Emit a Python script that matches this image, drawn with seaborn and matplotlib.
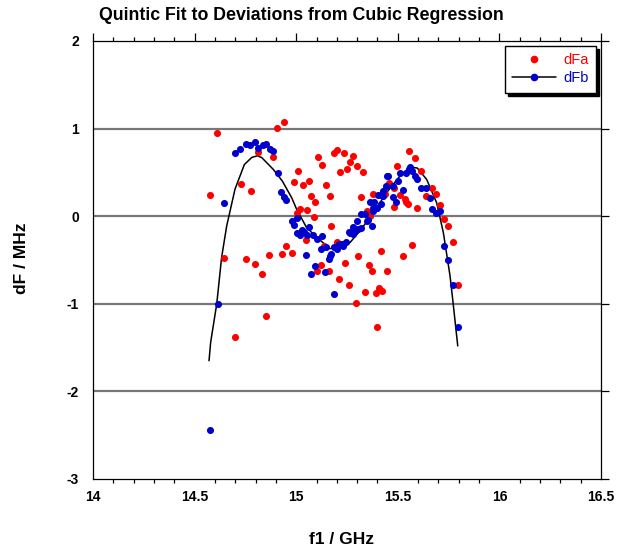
import numpy as np
import pandas as pd
import matplotlib
matplotlib.use("Agg")
import matplotlib.pyplot as plt
from matplotlib.lines import Line2D
from matplotlib.ticker import MultipleLocator
import seaborn as sns

# Deviations dFa (MHz) versus f1 (GHz)
fa_x = [14.574, 14.612, 14.643, 14.700, 14.727, 14.751, 14.776, 14.797, 14.814, 14.833,
        14.851, 14.865, 14.884, 14.907, 14.929, 14.938, 14.951, 14.978, 14.989, 15.002,
        15.009, 15.020, 15.033, 15.047, 15.053, 15.065, 15.071, 15.086, 15.091, 15.104,
        15.109, 15.122, 15.128, 15.138, 15.147, 15.161, 15.166, 15.173, 15.185, 15.200,
        15.199, 15.212, 15.217, 15.235, 15.242, 15.248, 15.262, 15.267, 15.279, 15.294,
        15.299, 15.306, 15.317, 15.330, 15.337, 15.350, 15.357, 15.363, 15.375, 15.380,
        15.393, 15.399, 15.406, 15.419, 15.424, 15.435, 15.445, 15.455, 15.479, 15.481,
        15.494, 15.511, 15.526, 15.535, 15.542, 15.552, 15.557, 15.568, 15.583, 15.594,
        15.613, 15.640, 15.667, 15.688, 15.706, 15.727, 15.745, 15.771, 15.798]
fa_y = [0.24, 0.953, -0.475, -1.38, 0.37, -0.49, 0.285, -0.55, 0.73, -0.665,
        -1.14, -0.44, 0.675, 1.01, -0.43, 1.08, -0.34, -0.42, 0.387, 0.034,
        0.516, 0.083, 0.353, -0.27, 0.068, 0.40, 0.235, -0.008, 0.167, -0.62,
        0.675, -0.555, 0.59, -0.34, 0.357, -0.62, 0.235, -0.11, 0.72, -0.30,
        0.76, -0.72, 0.505, 0.72, -0.535, 0.54, -0.79, 0.615, 0.69, -0.99,
        0.573, -0.46, 0.224, 0.50, -0.87, 0.057, -0.56, 0.0, -0.62, 0.258,
        -0.88, -1.26, -0.82, -0.40, -0.85, 0.254, -0.62, 0.376, 0.106, 0.32,
        0.573, 0.239, -0.45, 0.194, 0.163, 0.137, 0.748, -0.326, 0.66, 0.095,
        0.516, 0.235, 0.32, 0.25, 0.133, -0.034, -0.11, -0.30, -0.79]

# Deviations dFb (MHz) versus f1 (GHz)
fb_x = [14.574, 14.614, 14.645, 14.700, 14.725, 14.751, 14.774, 14.796, 14.814, 14.835,
        14.853, 14.869, 14.884, 14.909, 14.927, 14.938, 14.950, 14.979, 14.991, 15.002,
        15.005, 15.020, 15.027, 15.038, 15.047, 15.053, 15.063, 15.071, 15.084, 15.091,
        15.101, 15.124, 15.128, 15.140, 15.145, 15.161, 15.168, 15.173, 15.186, 15.188,
        15.199, 15.211, 15.224, 15.232, 15.245, 15.260, 15.265, 15.278, 15.281, 15.291,
        15.299, 15.302, 15.319, 15.319, 15.337, 15.347, 15.353, 15.363, 15.373, 15.376,
        15.380, 15.384, 15.396, 15.401, 15.416, 15.419, 15.425, 15.429, 15.443, 15.448,
        15.453, 15.474, 15.478, 15.493, 15.500, 15.512, 15.526, 15.539, 15.553, 15.560,
        15.570, 15.583, 15.596, 15.613, 15.640, 15.657, 15.670, 15.689, 15.708, 15.727,
        15.745, 15.771, 15.796]
fb_y = [-2.44, -1.0, 0.15, 0.72, 0.763, 0.82, 0.81, 0.85, 0.775, 0.81,
        0.82, 0.77, 0.74, 0.49, 0.28, 0.22, 0.185, -0.05, -0.10, -0.02,
        -0.195, -0.21, -0.155, -0.18, -0.44, -0.21, -0.12, -0.66, -0.21, -0.573,
        -0.265, -0.38, -0.23, -0.634, -0.35, -0.49, -0.455, -0.43, -0.89, -0.357,
        -0.37, -0.32, -0.32, -0.34, -0.29, -0.186, -0.197, -0.12, -0.205, -0.16,
        -0.05, -0.145, -0.133, 0.023, 0.023, -0.053, -0.045, 0.167, -0.11, 0.09,
        0.057, 0.167, 0.095, 0.243, 0.243, 0.14, 0.29, 0.228, 0.34, 0.455,
        0.46, 0.224, 0.34, 0.167, 0.40, 0.49, 0.30, 0.49, 0.535, 0.558,
        0.52, 0.46, 0.42, 0.326, 0.326, 0.205, 0.08, 0.038, 0.065, -0.338,
        -0.50, -0.79, -1.26]

# Quintic fit curve
fit_x = [14.571, 14.579, 14.609, 14.633, 14.658, 14.699, 14.745, 14.781, 14.809, 14.830,
         14.887, 14.932, 14.978, 15.002, 15.051, 15.101, 15.166, 15.216, 15.265, 15.314,
         15.380, 15.445, 15.511, 15.560, 15.596, 15.642, 15.691, 15.724, 15.757, 15.770,
         15.795]
fit_y = [-1.65, -1.44, -1.0, -0.47, -0.11, 0.31, 0.59, 0.67, 0.69, 0.67,
         0.535, 0.40, 0.21, 0.08, -0.13, -0.24, -0.37, -0.357, -0.30, -0.167,
         0.04, 0.27, 0.46, 0.56, 0.55, 0.42, 0.155, -0.185, -0.68, -0.945,
         -1.48]

x_ticks = [14, 14.5, 15, 15.5, 16, 16.5]
x_tick_labels = ["14", "14.5", "15", "15.5", "16", "16.5"]
y_ticks = [-3, -2, -1, 0, 1, 2]
y_tick_labels = ["-3", "-2", "-1", "0", "1", "2"]

RED = "#ff0000"
BLUE = "#0000cc"

sns.set_theme(style="white")
plt.rcParams["font.family"] = ["Liberation Sans", "DejaVu Sans"]
plt.rcParams.update({
    "text.color": "black",
    "axes.labelcolor": "black",
    "xtick.color": "black",
    "ytick.color": "black",
})

fig = plt.figure(figsize=(6.18, 5.53), dpi=100)
ax = fig.add_axes([93 / 618, 74 / 553, 508 / 618, 438 / 553])

df_a = pd.DataFrame({"f1": fa_x, "dF": fa_y})
df_b = pd.DataFrame({"f1": fb_x, "dF": fb_y})
df_fit = pd.DataFrame({"f1": fit_x, "dF": fit_y})

# interior horizontal grid lines
for yv in y_ticks[1:-1]:
    ax.axhline(yv, color="#777777", lw=1.6, zorder=0.5)

sns.lineplot(data=df_fit, x="f1", y="dF", ax=ax, color="black", lw=1.1,
             sort=False, estimator=None, zorder=2)
sns.scatterplot(data=df_a, x="f1", y="dF", ax=ax, color=RED, s=26,
                linewidth=0, zorder=3)
sns.scatterplot(data=df_b, x="f1", y="dF", ax=ax, color=BLUE, s=26,
                linewidth=0, zorder=4)

ax.set_xlim(14, 16.5)
ax.set_ylim(-3, 2)
ax.set_xticks(x_ticks)
ax.set_xticklabels(x_tick_labels)
ax.set_yticks(y_ticks)
ax.set_yticklabels(y_tick_labels)
ax.xaxis.set_minor_locator(MultipleLocator(0.1))
ax.tick_params(axis="both", which="major", direction="out", length=6, width=0.9,
               color="black", labelcolor="black", labelsize=10, top=True,
               right=True, labeltop=False, labelright=False)
ax.tick_params(axis="x", which="major", pad=2)
ax.tick_params(axis="y", which="major", pad=4)
ax.tick_params(axis="x", which="minor", direction="out", length=3, width=0.9,
               color="black", top=True, bottom=True)
for lab in ax.get_xticklabels() + ax.get_yticklabels():
    lab.set_fontweight("bold")

for sp in ax.spines.values():
    sp.set_color("black")
    sp.set_linewidth(0.9)

ax.set_xlabel("")
ax.set_ylabel("")
fig.text(341 / 618, 1 - 539 / 553, "f1 / GHz", ha="center", va="center",
         fontsize=12.5, fontweight="bold", color="black")
fig.text(22 / 618, 1 - 258 / 553, "dF / MHz", ha="center", va="center",
         rotation=90, fontsize=12.5, fontweight="bold", color="black")
fig.text(301 / 618, 1 - 15 / 553, "Quintic Fit to Deviations from Cubic Regression",
         ha="center", va="center", fontsize=12.8, fontweight="bold", color="black")

handles = [
    Line2D([], [], color="none", marker="o", markerfacecolor=RED,
           markeredgewidth=0, markersize=5.5),
    Line2D([], [], color="black", lw=1.1, marker="o", markerfacecolor=BLUE,
           markeredgewidth=0, markersize=5.5),
]
leg = ax.legend(handles, ["dFa", "dFb"], loc="upper right",
                bbox_to_anchor=(0.990, 0.989), frameon=True, fancybox=False,
                shadow={"color": "black", "alpha": 1.0, "ox": 2.2, "oy": -2.2},
                fontsize=10.5, handlelength=3.0, handletextpad=0.5,
                borderpad=0.5, labelspacing=0.3, borderaxespad=0)
leg.get_frame().set_edgecolor("black")
leg.get_frame().set_linewidth(1.0)
leg.get_frame().set_alpha(1.0)
for txt, col in zip(leg.get_texts(), [RED, BLUE]):
    txt.set_color(col)

fig.savefig("out.png", dpi=100)
